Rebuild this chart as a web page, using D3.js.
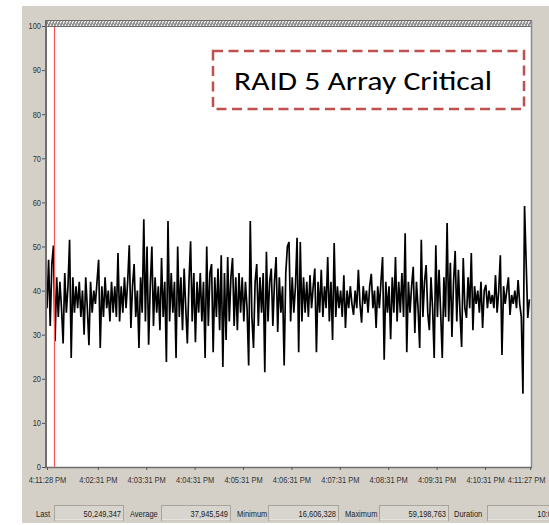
<!DOCTYPE html>
<html><head><meta charset="utf-8">
<script src="https://cdn.jsdelivr.net/npm/d3@7"></script>
<style>html,body{margin:0;padding:0;background:#fff;overflow:hidden}</style>
</head><body><svg id="c" width="549" height="525"></svg>
<script>
// ---- data (display units, scale 0.000001) ----
const values = [
36,47,32,46,50.2,28.5,43,34,42,36,28,44,35,41,51.5,24.7,43,35,41,36,
42,34,40,30,43,36,27.6,42,35,40,37,42,47,27,41,34,43,36,40,33,
42,35,41,34,48.5,33,41,35,43,36,42,50.3,31.5,41,46,34,40,27,43,35,
56.2,33,50,27.7,41,50,32,43,35,41,31,47.4,34,42,23.8,55.8,33,44,35,42,
24.7,50,34,43,31,45,36,28,42,51.2,33,44,28.3,42,35,44,33,42,24.7,50,
32,44,46,26,43,34,45,31,48,22.7,44,28.8,47.6,33,43,47.4,32,43,31,44,
35,43,33,42,36,23,55.8,34,27,42,46,32,43,35,44,21.5,48.8,33,42,45,
32,42,47.6,30.6,43,35,41,23,44,50,51,33,43,35,41,52,26,51,33,43,
35,42,34,43.5,36,41,45,26,42,35,44.7,34,41,36,47.6,33,42,28.8,50.8,34,
41,36,40,34,43.5,31.5,40,36,41,37,34.5,40,36,44.7,37,32.7,41,37,40,35,
41,43.8,36,40,31.5,41,36,42,47.6,24.3,42,35,41,29,43,35,47.6,33,42,35,
44,34,53,26,42,35,41,45.4,30.4,42,36,27,51.5,34,42,45.8,35,31,43,36,
24.7,50.3,34,44.7,35,24.7,43,34,55.3,33,46.3,29.5,42,49,33,44.7,35,27.2,47.4,36,
33.8,43,36,48.5,31,41,37,40,35,42,31.5,40,41.3,36,40,37,39,36,43.5,35,
40,48,25.4,41,37,40,43,34.5,39,37,40,36,42.4,37,34,16.6,59.2,46.3,33.8,38
];
const sampleStepSec = 2;
const durationSec = 600;
const cursorSec = 9;
const yTicks = [0,10,20,30,40,50,60,70,80,90,100];
const xTickLabels = ["4:11:28 PM","4:02:31 PM","4:03:31 PM","4:04:31 PM","4:05:31 PM","4:06:31 PM","4:07:31 PM","4:08:31 PM","4:09:31 PM","4:10:31 PM","4:11:27 PM"];
const xTickOffsets = [0,63,123,183,243,303,363,423,483,543,599];
const statLabels = ["Last","Average","Minimum","Maximum","Duration"];
const statValues = ["50,249,347","37,945,549","16,606,328","59,198,763","10:00"];
const annotation = "RAID 5 Array Critical";

// ---- drawing ----
const svg = d3.select("#c");
const L = 47, R = 531, T = 26, B = 467;
const x = d3.scaleLinear().domain([0, durationSec]).range([L, R]);
const y = d3.scaleLinear().domain([0, 100]).range([B, T]);
const smallFont = "'Liberation Sans', Arial, sans-serif";
const condense = 0.83;
function squeeze(sel){ sel.each(function(){ const w=this.getComputedTextLength(); d3.select(this).attr("textLength", w*condense).attr("lengthAdjust","spacingAndGlyphs"); }); }

const defs = svg.append("defs");
const pat = defs.append("pattern").attr("id","hatch").attr("patternUnits","userSpaceOnUse").attr("width",3).attr("height",6);
pat.append("rect").attr("width",3).attr("height",6).attr("fill","#8f8f8f");
pat.append("path").attr("d","M-1,7 L4,-1").attr("stroke","#ffffff").attr("stroke-width",1.1);
defs.append("clipPath").attr("id","plotclip").append("rect").attr("x",L).attr("y",T).attr("width",R-L).attr("height",B-T);

svg.append("rect").attr("x",22).attr("y",6).attr("width",527).attr("height",517).attr("fill","#d4d0c8");
svg.append("rect").attr("x",L).attr("y",20).attr("width",R-L).attr("height",B-20).attr("fill","#ffffff");
svg.append("rect").attr("x",L).attr("y",21).attr("width",R-L).attr("height",5).attr("fill","url(#hatch)");
svg.append("line").attr("x1",L).attr("x2",R).attr("y1",20.5).attr("y2",20.5).attr("stroke","#6a6a6a");
svg.append("line").attr("x1",L).attr("x2",R).attr("y1",26.5).attr("y2",26.5).attr("stroke","#6a6a6a");
svg.append("rect").attr("x",45).attr("y",20).attr("width",2).attr("height",B-20+1).attr("fill","#6e6e6e");
svg.append("line").attr("x1",R+0.5).attr("x2",R+0.5).attr("y1",20).attr("y2",B).attr("stroke","#8a8a8a").attr("stroke-width",1.5);

// y axis
const ya = svg.append("g").attr("transform",`translate(${45},0)`)
  .call(d3.axisLeft(y).tickValues(yTicks).tickSize(3).tickPadding(1));
ya.select(".domain").remove();
ya.selectAll("line").attr("stroke","#555");
ya.selectAll("text").attr("font-family",smallFont).attr("font-size",9).attr("fill","#333").call(squeeze);

// x axis
const xa = svg.append("g").attr("transform",`translate(0,${B})`)
  .call(d3.axisBottom(x).tickValues(xTickOffsets).tickFormat((d,i)=>xTickLabels[i]).tickSize(3).tickPadding(7));
xa.select(".domain").attr("stroke","#6e6e6e").attr("stroke-width",1.5).attr("d",`M45,0.5H${R+1}`);
xa.selectAll("line").attr("stroke","#555");
xa.selectAll("text").attr("font-family",smallFont).attr("font-size",9).attr("fill","#333").call(squeeze);
xa.selectAll("text").filter((d,i)=>i===xTickLabels.length-1).attr("dx",-4);

// data line
const line = d3.line().x((d,i)=>x(i*sampleStepSec)).y(d=>y(d));
svg.append("path").datum(values).attr("clip-path","url(#plotclip)")
  .attr("d",line).attr("fill","none").attr("stroke","#000").attr("stroke-width",1.7).attr("stroke-linejoin","miter");

// cursor
svg.append("line").attr("x1",Math.round(x(cursorSec))+0.5).attr("x2",Math.round(x(cursorSec))+0.5)
  .attr("y1",T+1).attr("y2",B).attr("stroke","#ff5555").attr("stroke-width",1.2);

// annotation
svg.append("rect").attr("x",213).attr("y",51).attr("width",311).attr("height",58)
  .attr("fill","none").attr("stroke","#c0504d").attr("stroke-width",2.5).attr("stroke-dasharray","10,5.5");
svg.append("text").attr("x",234).attr("y",90).text(annotation)
  .attr("font-family","Carlito, Lato, sans-serif").attr("font-size",26).attr("fill","#000")
  .attr("textLength",258).attr("lengthAdjust","spacingAndGlyphs");

// stats bar
const labelX = [36,130,237,345,454];
const boxX = [54,161,268,379,487];
const boxW = [69,69,70,69,71];
const sb = svg.append("g");
statLabels.forEach((lab,i)=>{
  sb.append("text").attr("x",labelX[i]).attr("y",517).text(lab)
    .attr("font-family",smallFont).attr("font-size",9).attr("fill","#222").call(squeeze);
  sb.append("rect").attr("x",boxX[i]+0.5).attr("y",505.5).attr("width",boxW[i]).attr("height",15)
    .attr("fill","#d8d5ce").attr("stroke","#a8a59f");
  sb.append("line").attr("x1",boxX[i]+1).attr("x2",boxX[i]+boxW[i]).attr("y1",520).attr("y2",520).attr("stroke","#f2f0ec");
  sb.append("text").attr("x",boxX[i]+boxW[i]-2).attr("y",517).attr("text-anchor","end").text(statValues[i])
    .attr("font-family",smallFont).attr("font-size",9).attr("fill","#222").call(squeeze);
});
</script></body></html>
